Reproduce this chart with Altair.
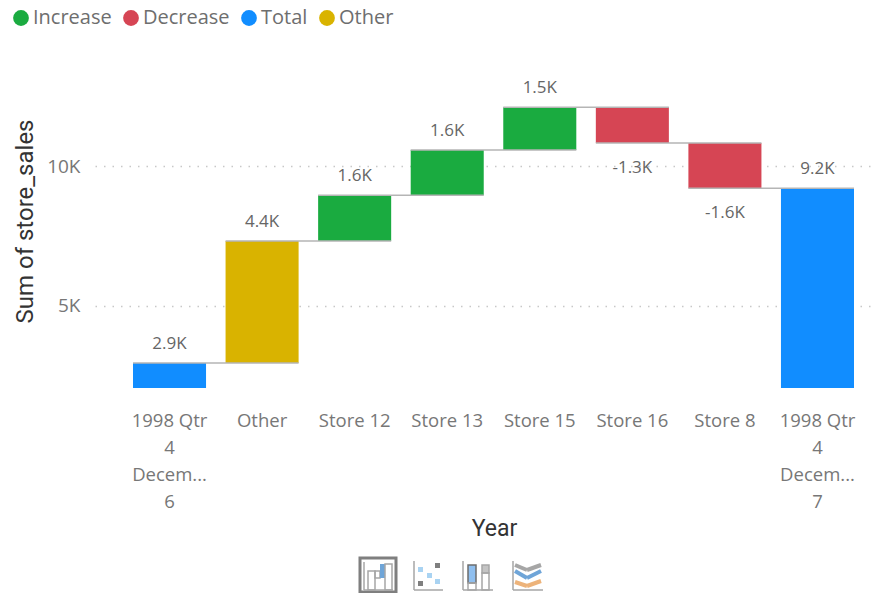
import altair as alt
import pandas as pd

categories = ["1998 Qtr|4|Decem...|6", "Other", "Store 12", "Store 13", "Store 15", "Store 16", "Store 8", "1998 Qtr|4|Decem...|7"]
starts = [0, 2960, 7320, 8960, 10570, 12100, 10820, 0]
ends = [2960, 7320, 8960, 10570, 12100, 10820, 9210, 9210]
kinds = ["Total", "Other", "Increase", "Increase", "Increase", "Decrease", "Decrease", "Total"]
labels = ["2.9K", "4.4K", "1.6K", "1.6K", "1.5K", "-1.3K", "-1.6K", "9.2K"]
kind_names = ["Increase", "Decrease", "Total", "Other"]
kind_colors = ["#1AAB40", "#D64554", "#118DFF", "#D9B300"]

df = pd.DataFrame({"cat": categories, "start": starts, "end": ends, "kind": kinds, "label": labels})
links = pd.DataFrame({"cat": categories[:-1], "next": categories[1:], "end": ends[:-1]})

PW, PH = 782, 318
OX, OY = 95, 70
FONT = "Open Sans"
TITLE_FONT = "Roboto"

xscale = alt.Scale(domain=categories, paddingInner=0.211, paddingOuter=0.3295, align=0.623)
yscale = alt.Scale(domain=[2070, 13430], nice=False, zero=False)

xenc = alt.X("cat:N", scale=xscale, sort=categories, title="Year", axis=alt.Axis(
    labelExpr="split(datum.label, '|')", labelAngle=0, labelFont=FONT, labelFontSize=18.5, labelColor="#777777",
    labelLineHeight=27, labelPadding=32, labelLimit=200, domain=False, ticks=False, grid=False,
    titleFont=TITLE_FONT, titleFontSize=23, titleFontWeight="normal", titleColor="#333333",
    titleX=399, titleY=129, labelBaseline="middle"))
yenc = alt.Y("start:Q", scale=yscale, title="Sum of store_sales", axis=alt.Axis(
    values=[5000, 10000], labelExpr="datum.value / 1000 + 'K'", labelFont=FONT, labelFontSize=19,
    labelColor="#777777", labelPadding=15, domain=False, ticks=False, grid=True, gridColor="#C8C8C8",
    gridDash=[1.5, 7], gridWidth=1.3, titleFont=TITLE_FONT, titleFontSize=24, titleFontWeight="normal",
    titleColor="#333333", titleX=-58, titleY=151))

bars = alt.Chart(df).mark_bar(clip=True).encode(
    x=xenc, y=yenc, y2="end:Q",
    color=alt.Color("kind:N", scale=alt.Scale(domain=kind_names, range=kind_colors), title=None, legend=alt.Legend(
        orient="none", legendX=-84, legendY=-62, direction="horizontal", columns=4, symbolType="circle",
        symbolSize=250, labelFont=FONT, labelFontSize=20, labelColor="#6E6E6E", labelOffset=2, columnPadding=9,
        symbolStrokeWidth=0, padding=0)),
)
connectors = alt.Chart(links).mark_rule(color="#B5B5B5", strokeWidth=1.5).encode(
    x=alt.X("cat:N", scale=xscale, bandPosition=0),
    x2=alt.X2("next:N", bandPosition=1),
    y=alt.Y("end:Q", scale=yscale),
)
text_common = dict(font=FONT, fontSize=17, color="#666666", baseline="middle")
above = alt.Chart(df).transform_filter("datum.kind != 'Decrease'").mark_text(dy=-19, **text_common).encode(
    x=alt.X("cat:N", scale=xscale), y=alt.Y("end:Q", scale=yscale), text="label:N")
below = alt.Chart(df).transform_filter("datum.kind == 'Decrease'").mark_text(dy=25, **text_common).encode(
    x=alt.X("cat:N", scale=xscale), y=alt.Y("end:Q", scale=yscale), text="label:N")

one = alt.Data(values=[{"k": 1}])

def box(x0, y0, x1, y1, fill=None, stroke=None, sw=1.5):
    props = {"fill": fill if fill else "transparent"}
    if stroke:
        props.update(stroke=stroke, strokeWidth=sw)
    return alt.Chart(one).mark_rect(**props).encode(
        x=alt.value(x0 - OX), x2=alt.value(x1 - OX), y=alt.value(y0 - OY), y2=alt.value(y1 - OY))

def seg(x0, y0, x1, y1, color="#A6A6A6", sw=1.5):
    return alt.Chart(one).mark_rule(color=color, strokeWidth=sw).encode(
        x=alt.value(x0 - OX), x2=alt.value(x1 - OX), y=alt.value(y0 - OY), y2=alt.value(y1 - OY))

icons = [
    box(360, 558, 396, 592, stroke="#7F7F7F", sw=3),
    seg(364, 562, 364, 590), seg(364, 590, 393, 590),
    box(368, 571, 375, 590, stroke="#A6A6A6"), box(375, 571, 380, 578, stroke="#A6A6A6"),
    box(380, 564, 385, 578, fill="#6FA5D8"), box(385, 564, 392, 590, stroke="#A6A6A6"),
    seg(414, 561, 414, 590), seg(414, 590, 443, 590),
    box(418, 567, 423, 572, fill="#A9D3F2"), box(427, 573, 432, 578, fill="#A9D3F2"),
    box(435, 579, 440, 584, fill="#A9D3F2"), box(435, 563, 440, 568, fill="#7F7F7F"),
    box(418, 581, 423, 586, fill="#7F7F7F"),
    seg(463, 561, 463, 590), seg(463, 590, 493, 590),
    box(468, 565, 476, 583, fill="#8FBFEF", stroke="#6E6E6E"), box(468, 583, 476, 590, stroke="#A6A6A6"),
    box(482, 565, 489, 573, fill="#C4C4C4", stroke="#A6A6A6"), box(482, 573, 489, 590, stroke="#A6A6A6"),
    seg(513, 561, 513, 590), seg(513, 590, 543, 590),
    seg(515, 565, 527, 570, "#A6A6A6", 4), seg(527, 570, 541, 565, "#A6A6A6", 4),
    seg(515, 571, 527, 578, "#6FA5D8", 4), seg(527, 578, 541, 571, "#6FA5D8", 4),
    seg(515, 582, 527, 586, "#EDB37A", 4), seg(527, 586, 541, 581, "#EDB37A", 4),
]

chart = alt.layer(bars, connectors, above, below, *icons).properties(
    width=PW, height=PH, padding={"left": 87, "top": 62, "right": 0, "bottom": 205},
    autosize=alt.AutoSizeParams(type="none"),
).configure_view(stroke=None)

chart.save("out.html", embed_options={"renderer": "svg", "actions": False})
